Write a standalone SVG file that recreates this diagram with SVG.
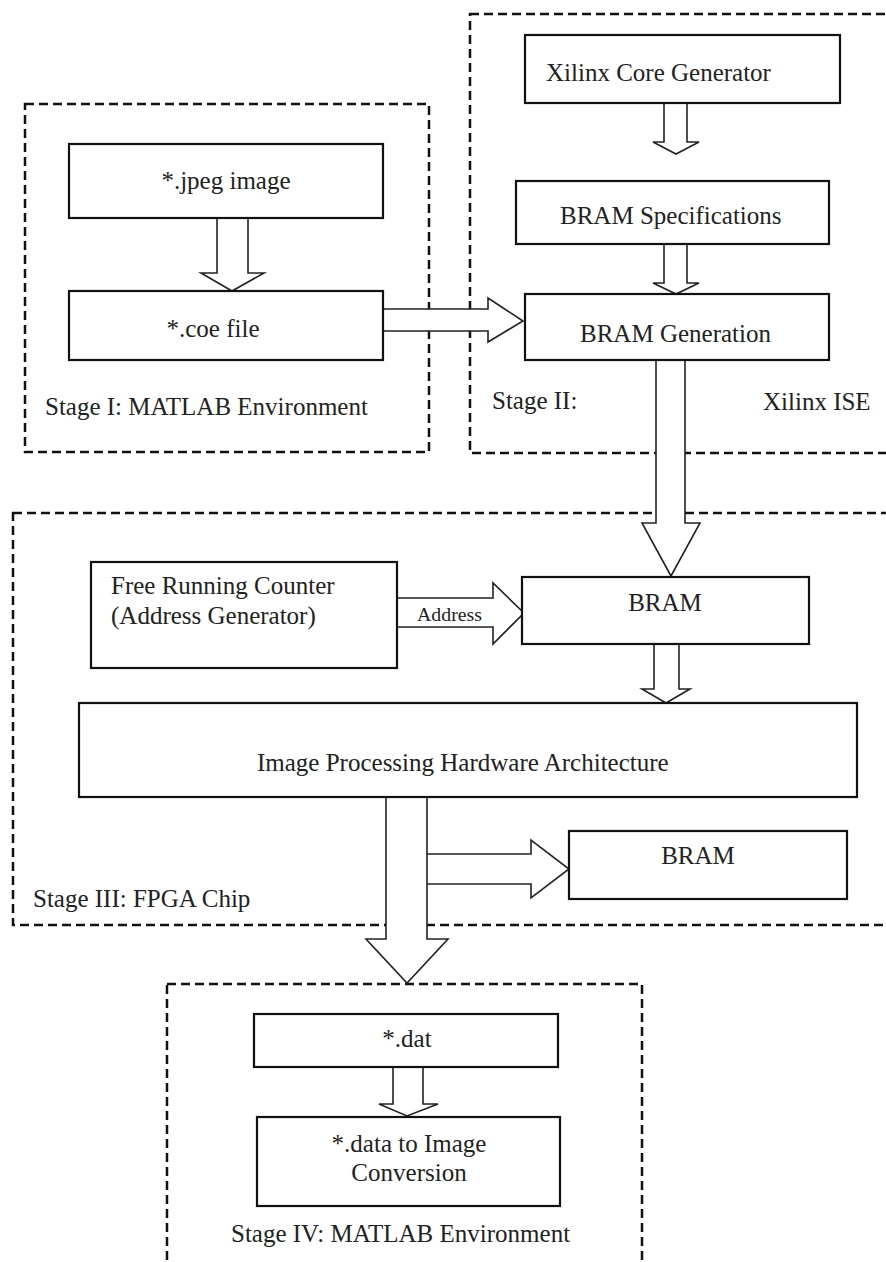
<svg xmlns="http://www.w3.org/2000/svg" width="886" height="1262" viewBox="0 0 886 1262" font-family="'Liberation Serif', 'Times New Roman', serif">
  <style>
    .frame { fill: none; stroke: #111; stroke-width: 2.5; stroke-dasharray: 9 5; }
    .box { fill: #fff; stroke: #111; stroke-width: 2.2; }
    .arrow { fill: #fff; stroke: #222; stroke-width: 1.6; stroke-linejoin: miter; }
    text { font-family: "Liberation Serif", "Times New Roman", serif; font-size: 25px; fill: #222; }
    .mid { text-anchor: middle; }
    .small { font-size: 18px; }
  </style>
  <rect width="886" height="1262" fill="#fff"/>

  <!-- stage frames -->
  <g id="stage-frames">
    <rect class="frame" x="25" y="104" width="404" height="348"/>
    <rect class="frame" x="470" y="14" width="430" height="439"/>
    <rect class="frame" x="13" y="513" width="887" height="412"/>
    <rect class="frame" x="167" y="984" width="475" height="300"/>
    <text x="45" y="415">Stage I: MATLAB Environment</text>
    <text x="492" y="409">Stage II:</text>
    <text x="763" y="410">Xilinx ISE</text>
    <text x="33" y="907">Stage III: FPGA Chip</text>
    <text x="231" y="1242">Stage IV: MATLAB Environment</text>
  </g>

  <!-- block arrows -->
  <g id="connectors">
    <path class="arrow" d="M217,218 V273 H201 L232,291 L264,273 H248 V218"/>
    <path class="arrow" d="M383,309 H488 V298 L523,321 L488,342 V331 H383"/>
    <path class="arrow" d="M664,103 V142 H653 L676,154 L699,142 H687 V103"/>
    <path class="arrow" d="M664,244 V283 H653 L676,294 L699,283 H687 V244"/>
    <path class="arrow" d="M656,360 V523 H642 L671,576 L700,523 H685 V360"/>
    <path class="arrow" d="M397,598 H493 V583 L524,613 L493,644 V627 H397"/>
    <text class="small" x="417" y="621" textLength="65" lengthAdjust="spacingAndGlyphs">Address</text>
    <path class="arrow" d="M654,644 V689 H642 L666,703 L690,689 H679 V644"/>
    <path class="arrow" d="M427,854 H531 V840 L569,869 L531,898 V884 H427"/>
    <path class="arrow" d="M386,797 V939 H366 L407,983 L448,939 H427 V797"/>
    <path class="arrow" d="M393,1067 V1104 H379 L407,1116 L438,1104 H423 V1067"/>
  </g>

  <g id="jpeg-image">
    <rect class="box" x="69" y="144" width="314" height="74"/>
    <text class="mid" x="226" y="189">*.jpeg image</text>
  </g>
  <g id="coe-file">
    <rect class="box" x="69" y="291" width="314" height="69"/>
    <text class="mid" x="213" y="337">*.coe file</text>
  </g>
  <g id="core-generator">
    <rect class="box" x="525" y="35" width="315" height="68"/>
    <text x="546" y="81">Xilinx Core Generator</text>
  </g>
  <g id="bram-specs">
    <rect class="box" x="516" y="181" width="313" height="63"/>
    <text x="560" y="224">BRAM Specifications</text>
  </g>
  <g id="bram-generation">
    <rect class="box" x="525" y="294" width="304" height="66"/>
    <text x="580" y="342">BRAM Generation</text>
  </g>
  <g id="address-counter">
    <rect class="box" x="91" y="562" width="306" height="106"/>
    <text x="111" y="594">Free Running Counter</text>
    <text x="111" y="624">(Address Generator)</text>
  </g>
  <g id="bram-in">
    <rect class="box" x="522" y="577" width="287" height="67"/>
    <text class="mid" x="665" y="611">BRAM</text>
  </g>
  <g id="hw-architecture">
    <rect class="box" x="79" y="703" width="778" height="94"/>
    <text x="257" y="771">Image Processing Hardware Architecture</text>
  </g>
  <g id="bram-out">
    <rect class="box" x="569" y="831" width="278" height="68"/>
    <text class="mid" x="698" y="864">BRAM</text>
  </g>
  <g id="dat-file">
    <rect class="box" x="254" y="1014" width="304" height="53"/>
    <text class="mid" x="407" y="1047">*.dat</text>
  </g>
  <g id="image-conversion">
    <rect class="box" x="257" y="1117" width="303" height="89"/>
    <text class="mid" x="409" y="1152">*.data to Image</text>
    <text class="mid" x="409" y="1181">Conversion</text>
  </g>
</svg>
